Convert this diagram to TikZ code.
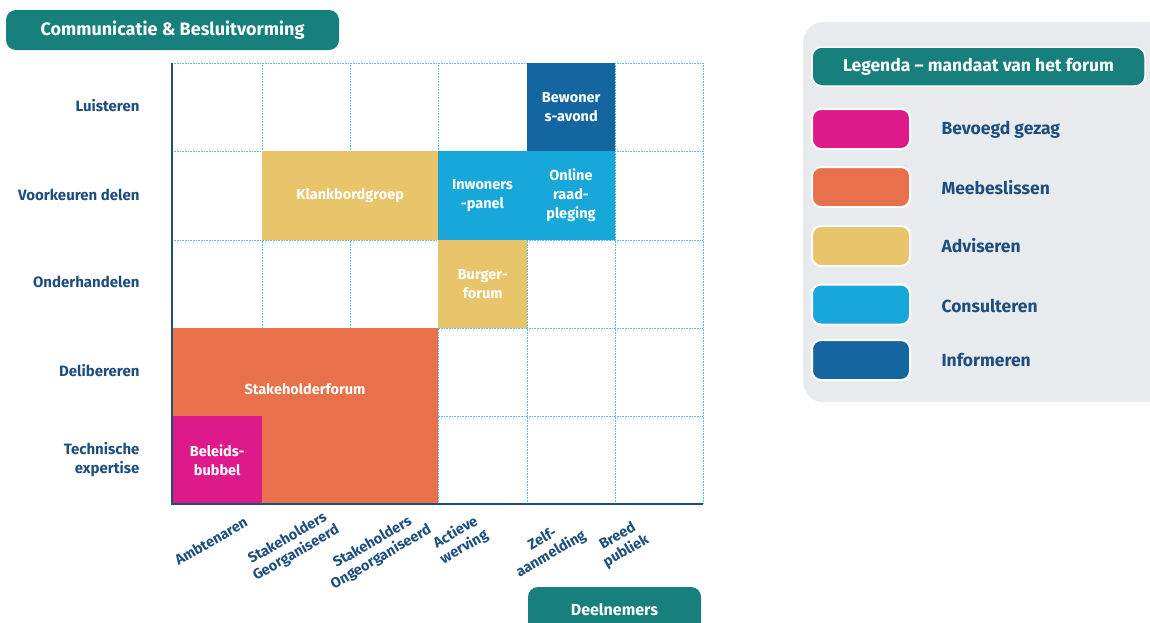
\documentclass[tikz,border=0pt]{standalone}
\usepackage{fontspec}
\setmainfont{Fira Sans}
\definecolor{cTeal}{HTML}{177F7C}
\definecolor{cMagenta}{HTML}{DE1A8A}
\definecolor{cOrange}{HTML}{E8704A}
\definecolor{cYellow}{HTML}{E8C46A}
\definecolor{cLight}{HTML}{17A7D8}
\definecolor{cDark}{HTML}{1466A0}
\definecolor{cNavy}{HTML}{1D4E7E}
\definecolor{cPanel}{HTML}{E8EBEE}
\definecolor{cGrid}{HTML}{5EBDE6}
\tikzset{
  pill/.style={fill=cTeal, rounded corners=10pt, text=white, font=\bfseries\fontsize{18}{21}\selectfont, inner sep=0pt},
  block/.style={inner sep=0pt, anchor=north west},
  celltext/.style={text=white, align=center, font=\bfseries\fontsize{14.5}{19}\selectfont},
  rowlab/.style={text=cNavy, align=right, anchor=east, font=\bfseries\fontsize{15}{19}\selectfont},
  collab/.style={text=cNavy, align=center, rotate=30, font=\bfseries\fontsize{14.5}{17}\selectfont},
  swatch/.style={draw=white, line width=2pt, rounded corners=9pt, minimum width=98pt, minimum height=40pt, inner sep=0pt},
  leglab/.style={text=cNavy, anchor=west, font=\bfseries\fontsize{17.5}{20}\selectfont},
  gridline/.style={cGrid, line width=0.9pt, dash pattern=on 1pt off 0.6pt},
  axis/.style={cNavy, line width=1.6pt}
}
\begin{document}
\begin{tikzpicture}[x=1pt,y=-1pt]
\useasboundingbox (0,0) rectangle (1150,622);
\clip (0,0) rectangle (1150,622);

% axis headings
\node[pill, minimum width=333pt, minimum height=40pt] (title) at (172.5,30) {Communicatie \& Besluitvorming};
\node[pill, minimum width=173pt, minimum height=50pt, font=\bfseries\fontsize{16}{19}\selectfont] (deel) at (614.5,612) {\raisebox{6pt}{Deelnemers}};

% dotted grid
\foreach \x in {172,262,350,438,527,615,703} \draw[gridline] (\x,63) -- (\x,504);
\foreach \y in {63,151,240,328,416,504} \draw[gridline] (172,\y) -- (703,\y);

% forum blocks
\node[block, fill=cDark, minimum width=88pt, minimum height=88pt] (bew) at (527,63) {};
\node[celltext] (bewt) at (bew.center) {Bewoner\\s-avond};
\node[block, fill=cYellow, minimum width=176pt, minimum height=89pt] (klank) at (262,151) {};
\node[celltext] (klankt) at (klank.center) {Klankbordgroep};
\node[block, fill=cLight, minimum width=177pt, minimum height=89pt] (cons) at (438,151) {};
\node[celltext] (inw) at (482.5,196) {Inwoners\\-panel};
\node[celltext] (onl) at (571,195.5) {Online\\raad-\\pleging};
\node[block, fill=cYellow, minimum width=89pt, minimum height=88pt] (burg) at (438,240) {};
\node[celltext] (burgt) at (burg.center) {Burger-\\forum};
\node[block, fill=cOrange, minimum width=266pt, minimum height=176pt] (stake) at (172,328) {};
\node[celltext] (staket) at (305,389) {Stakeholderforum};
\node[block, fill=cMagenta, minimum width=90pt, minimum height=88pt] (bel) at (172,416) {};
\node[celltext] (belt) at (bel.center) {Beleids-\\bubbel};

% axes
\draw[axis] (172,63) -- (172,504) -- (703,504);

% row labels
\node[rowlab] (r1) at (143,106) {Luisteren};
\node[rowlab] (r2) at (143,195) {Voorkeuren delen};
\node[rowlab] (r3) at (143,282) {Onderhandelen};
\node[rowlab] (r4) at (143,371) {Delibereren};
\node[rowlab] (r5) at (143,459.5) {Technische\\expertise};

% column labels
\node[collab] (c1) at (211,541) {Ambtenaren};
\node[collab] (c2) at (292,546) {Stakeholders\\Georganiseerd};
\node[collab] (c3) at (377,550) {Stakeholders\\Ongeorganiseerd};
\node[collab] (c4) at (460,540) {Actieve\\werving};
\node[collab] (c5) at (547,547) {Zelf-\\aanmelding};
\node[collab] (c6) at (622,544) {Breed\\publiek};

% legend
\node[fill=cPanel, rounded corners=20pt, minimum width=380pt, minimum height=380pt, anchor=north west, inner sep=0pt] (panel) at (803,22) {};
\node[pill, draw=white, line width=1.5pt, minimum width=333pt, minimum height=39pt, font=\bfseries\fontsize{17.5}{20}\selectfont] (legt) at (978.5,66.5) {Legenda -- mandaat van het forum};
\node[swatch, fill=cMagenta] (s1) at (861,129) {};
\node[swatch, fill=cOrange] (s2) at (861,187) {};
\node[swatch, fill=cYellow] (s3) at (861,246) {};
\node[swatch, fill=cLight] (s4) at (861,304.5) {};
\node[swatch, fill=cDark] (s5) at (861,360) {};
\node[leglab] (l1) at (938,130) {Bevoegd gezag};
\node[leglab] (l2) at (938,188) {Meebeslissen};
\node[leglab] (l3) at (938,246) {Adviseren};
\node[leglab] (l4) at (938,306) {Consulteren};
\node[leglab] (l5) at (938,360) {Informeren};
\end{tikzpicture}
\end{document}
